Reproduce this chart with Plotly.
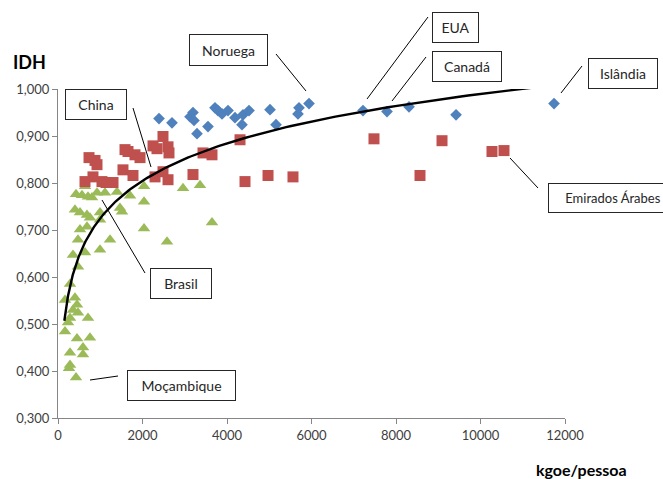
import numpy as np
import plotly.graph_objects as go

# Consumo de energia per capita (kgoe/pessoa) e IDH, por grupo de desenvolvimento

# IDH muito elevado
alto_x = [2391, 2698, 3124, 3195, 3219, 3290, 3550, 3716, 3787, 3882, 4024, 4189, 4355,
          4379, 4521, 5018, 5160, 5680, 5704, 5941, 7219, 7787, 8308, 9421, 11740]
alto_y = [0.937, 0.928, 0.941, 0.950, 0.933, 0.905, 0.920, 0.960, 0.954, 0.947, 0.954,
          0.939, 0.924, 0.945, 0.954, 0.956, 0.924, 0.947, 0.960, 0.969, 0.954, 0.952,
          0.962, 0.945, 0.969]

# IDH elevado
medio_x = [639, 734, 828, 876, 923, 1041, 1136, 1302, 1538, 1586, 1657, 1775, 1822, 1941,
           2249, 2343, 2485, 2604, 2627, 2296, 2485, 2604, 3195, 3432, 3645, 4308, 4426,
           4971, 5562, 7479, 8568, 9089, 10272, 10556]
medio_y = [0.803, 0.854, 0.813, 0.848, 0.839, 0.803, 0.801, 0.801, 0.828, 0.871, 0.867,
           0.816, 0.860, 0.854, 0.879, 0.873, 0.899, 0.877, 0.864, 0.813, 0.824, 0.807,
           0.818, 0.864, 0.860, 0.892, 0.803, 0.816, 0.813, 0.894, 0.816, 0.890, 0.867,
           0.869]

# IDH médio e baixo
baixo_x = [639, 426, 568, 710, 805, 923, 1112, 1396, 1704, 2036, 2959, 3361, 2036, 1467,
           1515, 402, 521, 686, 994, 757, 994, 521, 686, 2036, 3645, 473, 1231, 2580, 994,
           355, 639, 473, 284, 166, 402, 450, 355, 473, 284, 710, 237, 166, 450, 757, 592,
           592, 284, 284, 260, 426]
baixo_y = [0.793, 0.776, 0.774, 0.771, 0.769, 0.779, 0.779, 0.781, 0.773, 0.793, 0.789,
           0.795, 0.760, 0.747, 0.739, 0.743, 0.737, 0.732, 0.737, 0.726, 0.722, 0.701,
           0.707, 0.703, 0.716, 0.679, 0.679, 0.675, 0.658, 0.647, 0.652, 0.622, 0.585,
           0.551, 0.556, 0.541, 0.530, 0.524, 0.513, 0.513, 0.503, 0.484, 0.469, 0.471,
           0.450, 0.435, 0.439, 0.413, 0.406, 0.386]

# Linha de tendência logarítmica: IDH = a·ln(E) + b
tend_a = 0.1149
tend_b = -0.0687
tend_x = np.geomspace(150, 11300, 200)
tend_y = tend_a * np.log(tend_x) + tend_b

x_ticks = [0, 2000, 4000, 6000, 8000, 10000, 12000]

FONTE = "Lato"
W, H = 663, 479
M_L, M_R, M_T, M_B = 58, 98, 89, 61
PW, PH = W - M_L - M_R, H - M_T - M_B


def fx(p):
    return (p - M_L) / PW


def fy(p):
    return (H - M_B - p) / PH


fig = go.Figure()
fig.add_trace(go.Scatter(x=baixo_x, y=baixo_y, mode="markers",
                         marker=dict(symbol="triangle-up", size=11, color="#9BBB59")))
fig.add_trace(go.Scatter(x=medio_x, y=medio_y, mode="markers",
                         marker=dict(symbol="square", size=11, color="#C0504D")))
fig.add_trace(go.Scatter(x=alto_x, y=alto_y, mode="markers",
                         marker=dict(symbol="diamond", size=9, color="#4F81BD")))
fig.add_trace(go.Scatter(x=tend_x, y=tend_y, mode="lines",
                         line=dict(color="black", width=2.4)))

# Caixas de texto (esquerda, topo, direita, base em pixels, corpo) e linhas de chamada
caixas = [
    ("Noruega", 189, 34, 268, 66, 14),
    ("EUA", 432, 12, 479, 43, 14),
    ("Canadá", 432, 51, 502, 82, 14),
    ("Islândia", 588, 58, 658, 89, 14),
    ("Emirados Árabes", 548, 183, 678, 213, 13),
    ("China", 65, 89, 127, 120, 14),
    ("Brasil", 150, 268, 212, 299, 14),
    ("Moçambique", 127, 370, 236, 401, 14),
]
chamadas = [
    (276, 54, 306, 91),
    (428, 17, 367, 99),
    (426, 57, 392, 101),
    (582, 66, 561, 93),
    (510, 158, 538, 188),
    (133, 108, 151, 167),
    (102, 200, 145, 273),
    (90, 380, 118, 376),
]

anots = []
for txt, x0, y0, x1, y1, corpo in caixas:
    anots.append(dict(text=txt, xref="paper", yref="paper", x=fx(x0), y=fy(y0),
                      xanchor="left", yanchor="top", showarrow=False,
                      width=x1 - x0 - 2, height=y1 - y0 - 2, borderpad=0,
                      bordercolor="#262626", borderwidth=1, bgcolor="white",
                      font=dict(family=FONTE, size=corpo, color="#262626")))
anots.append(dict(text="<b>IDH</b>", xref="paper", yref="paper", x=fx(11), y=fy(62),
                  xanchor="left", yanchor="middle", showarrow=False,
                  font=dict(family=FONTE, size=18, color="black")))
anots.append(dict(text="<b>kgoe/pessoa</b>", xref="paper", yref="paper", x=fx(534),
                  y=fy(470), xanchor="left", yanchor="middle", showarrow=False,
                  font=dict(family=FONTE, size=16, color="black")))

formas = [dict(type="line", xref="paper", yref="paper", x0=fx(a), y0=fy(b), x1=fx(c),
               y1=fy(d), line=dict(color="black", width=1))
          for a, b, c, d in chamadas]

eixo = dict(showgrid=False, zeroline=False, showline=True, linecolor="#868686",
            linewidth=1, ticks="outside", ticklen=5, tickcolor="#868686",
            tickfont=dict(family=FONTE, size=13, color="#404040"))

fig.update_layout(
    width=W, height=H, margin=dict(l=M_L, r=M_R, t=M_T, b=M_B),
    paper_bgcolor="white", plot_bgcolor="white", showlegend=False,
    separators=",.",
    xaxis=dict(range=[0, 12000], tickvals=x_ticks, tickformat="d", **eixo),
    yaxis=dict(range=[0.3, 1.0], dtick=0.1, tick0=0.3, tickformat=".3f", **eixo),
    annotations=anots, shapes=formas,
)

fig.write_html("out.html")
